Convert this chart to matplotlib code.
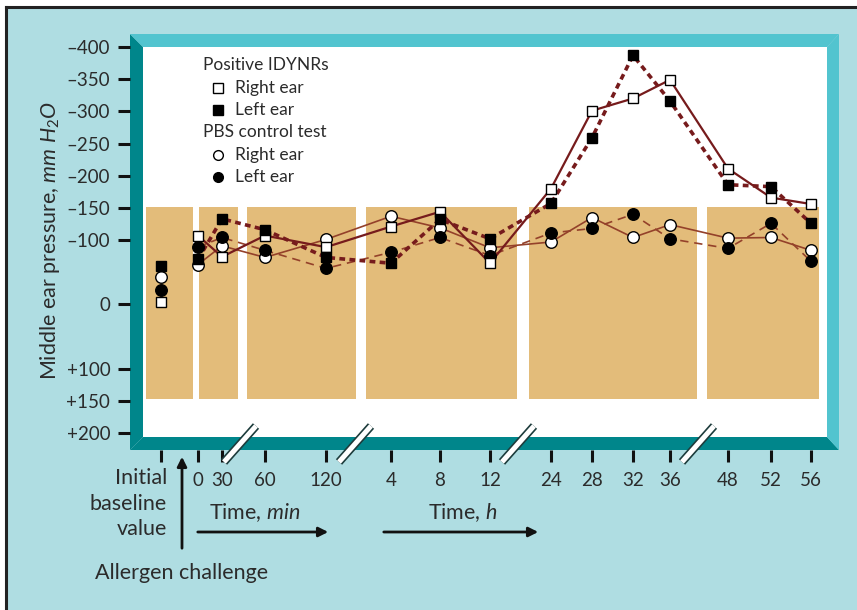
import matplotlib
matplotlib.use("Agg")
import matplotlib.pyplot as plt
from matplotlib.patches import Polygon, Rectangle

plt.rcParams['font.family'] = ['Lato', 'DejaVu Sans']
plt.rcParams['mathtext.fontset'] = 'custom'
plt.rcParams['mathtext.rm'] = 'Lato'
plt.rcParams['mathtext.it'] = 'Lato:italic'

# time points (first one is the initial baseline value)
time_labels = ["", "0", "30", "60", "120", "4", "8", "12", "24", "28", "32", "36", "48", "52", "56"]

# middle ear pressure, mm H2O (negative = up)
idynr_right = [-3, -107, -74, -107, -89, -121, -144, -64, -180, -301, -320, -349, -211, -166, -156]
idynr_left = [-60, -70, -133, -116, -73, -64, -132, -102, -157, -259, -387, -316, -186, -183, -126]
pbs_right = [-42, -62, -91, -73, -101, -137, -119, -88, -97, -135, -104, -124, -103, -104, -84]
pbs_left = [-23, -89, -104, -84, -56, -81, -104, -76, -111, -118, -140, -102, -87, -126, -67]

y_ticks = [-400, -350, -300, -250, -200, -150, -100, 0, 100, 150, 200]
y_ticklabels = ["\u2013400", "\u2013350", "\u2013300", "\u2013250", "\u2013200", "\u2013150",
                "\u2013100", "0", "+100", "+150", "+200"]

# layout (pixel positions on the canvas)
x_pos = [161, 198, 222, 265, 326, 391, 440, 490, 551, 592, 633, 670, 728, 771, 811]
bands = [(146, 193), (199, 238), (247, 356), (366, 517), (529, 697), (707, 819)]
breaks = [240, 355, 518, 698]

W, H = 857, 610
BG = '#afdde2'
DARK_TEAL = '#00868b'
LIGHT_TEAL = '#52c4cf'
TAN = '#e3bc7a'
RED = '#761b1c'
BROWN = '#94412a'
TXT = '#2b2b2b'

fig = plt.figure(figsize=(W / 100, H / 100), dpi=100, facecolor='white')

# background + bevelled frame
bg = fig.add_axes([0, 0, 1, 1], zorder=0)
bg.set_xlim(0, W)
bg.set_ylim(H, 0)
bg.axis('off')
bg.add_patch(Rectangle((6.5, 6.5), W, H, facecolor=BG, lw=0))
bg.plot([6.5, W], [6.5, 6.5], color='#222222', lw=2.2, solid_capstyle='projecting')
bg.plot([6.5, 6.5], [6.5, H], color='#222222', lw=2.2, solid_capstyle='projecting')
L, T, R, B = 143, 47, 827, 437
oL, oT, oR, oB = 130, 34, 839, 450
bg.add_patch(Polygon([(oL, oT), (L, T), (L, B), (oL, oB)], facecolor=DARK_TEAL, lw=0))
bg.add_patch(Polygon([(oL, oB), (L, B), (R, B), (oR, oB)], facecolor=DARK_TEAL, lw=0))
bg.add_patch(Polygon([(oL, oT), (oR, oT), (R, T), (L, T)], facecolor=LIGHT_TEAL, lw=0))
bg.add_patch(Polygon([(oR, oT), (oR, oB), (R, B), (R, T)], facecolor=LIGHT_TEAL, lw=0))

# main plot area
ax = fig.add_axes([L / W, 1 - B / H, (R - L) / W, (B - T) / H], zorder=1)
ax.set_facecolor('white')
ax.set_xlim(L, R)
ax.set_ylim(206, -400)
for s in ax.spines.values():
    s.set_visible(False)
ax.spines['left'].set_position(('outward', 9.4))
ax.spines['bottom'].set_position(('outward', 9.4))

for x0, x1 in bands:
    ax.add_patch(Rectangle((x0, -152), x1 - x0, 299, facecolor=TAN, lw=0, zorder=1))

xs = x_pos[1:]
ax.plot(xs, pbs_right[1:], color=BROWN, lw=1.2, zorder=2)
ax.plot(xs, pbs_left[1:], color=BROWN, lw=1.2, dashes=(5, 3.5), zorder=2)
ax.plot(xs, idynr_right[1:], color=RED, lw=1.6, zorder=3)
ax.plot(xs, idynr_left[1:], color=RED, lw=2.6, dashes=(1.6, 1.2), zorder=3)

ms = 8.3
ax.plot(x_pos, pbs_right, 'o', ms=ms, mfc='white', mec='black', mew=1.0, zorder=4)
ax.plot(x_pos, pbs_left, 'o', ms=ms, mfc='black', mec='black', mew=1.0, zorder=4)
ax.plot(x_pos, idynr_right, 's', ms=ms - 0.5, mfc='white', mec='black', mew=1.0, zorder=5)
ax.plot(x_pos, idynr_left, 's', ms=ms - 0.5, mfc='black', mec='black', mew=1.0, zorder=5)

ax.set_yticks(y_ticks)
ax.set_yticklabels(y_ticklabels)
ax.set_xticks(x_pos)
ax.set_xticklabels(time_labels)
ax.tick_params(axis='both', length=8.6, width=2.2, color='#111111', labelsize=13.5,
               labelcolor=TXT, direction='out')
ax.tick_params(axis='y', pad=5.5)
ax.tick_params(axis='x', pad=7)

# overlay: legend, breaks, annotations
ov = fig.add_axes([0, 0, 1, 1], zorder=2)
ov.set_xlim(0, W)
ov.set_ylim(H, 0)
ov.axis('off')
ov.patch.set_alpha(0)

fs = 12.5
ov.text(203, 65, "Positive IDYNRs", fontsize=fs, color=TXT, va='center')
ov.text(203, 132, "PBS control test", fontsize=fs, color=TXT, va='center')
legend_rows = [(88, 's', 'white', "Right ear"), (110, 's', 'black', "Left ear"),
               (155, 'o', 'white', "Right ear"), (177, 'o', 'black', "Left ear")]
for y, m, fc, lab in legend_rows:
    ov.plot([218], [y], m, ms=7, mfc=fc, mec='black', mew=1.0)
    ov.text(235, y, lab, fontsize=fs, color=TXT, va='center')

for cx in breaks:
    ov.plot([cx - 16, cx + 16], [462, 426], color='#1d3c3c', lw=6.0, solid_capstyle='butt')
    ov.plot([cx - 16, cx + 16], [462, 426], color='white', lw=3.6, solid_capstyle='butt')

fa = 15.5
ov.text(50, 240, r"Middle ear pressure, $\mathit{mm\ H_2O}$", fontsize=fa, color=TXT,
        rotation=90, ha='center', va='center')

ov.text(167, 468, "Initial\nbaseline\nvalue", fontsize=fa, color=TXT, ha='right', va='top',
        multialignment='right', linespacing=1.35)
ov.annotate("", xy=(182, 454), xytext=(182, 551),
            arrowprops=dict(arrowstyle='-|>', color='#111111', lw=2, mutation_scale=14))
ov.text(182, 573, "Allergen challenge", fontsize=fa, color=TXT, ha='center', va='center')

ov.text(209, 513, r"Time, $\mathit{min}$", fontsize=fa, color=TXT, ha='left', va='center')
ov.annotate("", xy=(331, 532), xytext=(195, 532),
            arrowprops=dict(arrowstyle='-|>', color='#111111', lw=2, mutation_scale=14))
ov.text(428, 513, r"Time, $\mathit{h}$", fontsize=fa, color=TXT, ha='left', va='center')
ov.annotate("", xy=(541, 532), xytext=(381, 532),
            arrowprops=dict(arrowstyle='-|>', color='#111111', lw=2, mutation_scale=14))

fig.savefig("out.png", dpi=100, facecolor='white')
